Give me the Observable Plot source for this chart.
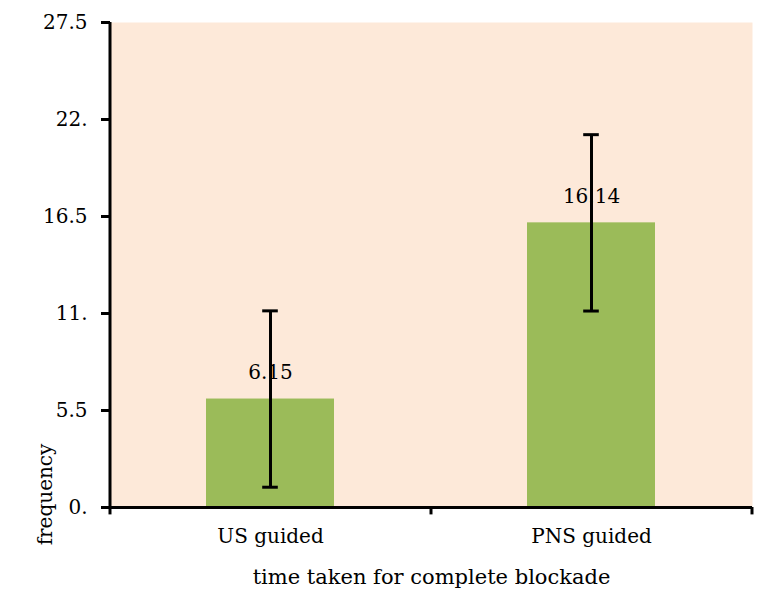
<!DOCTYPE html>
<html>
<head>
<meta charset="utf-8">
<script src="https://cdn.jsdelivr.net/npm/d3@7"></script>
<script src="https://cdn.jsdelivr.net/npm/@observablehq/plot@0.6"></script>
<style>
  html, body { margin: 0; padding: 0; background: #ffffff; }
  #chart { width: 763px; height: 598px; }
</style>
</head>
<body>
<div id="chart"></div>
<script>
const categories = ["US guided", "PNS guided"];
const values = [6.15, 16.14];
const errLow = [1.15, 11.14];
const errHigh = [11.15, 21.14];
const yTicks = [0, 5.5, 11, 16.5, 22, 27.5];
const yTickLabels = ["0.", "5.5", "11.", "16.5", "22.", "27.5"];
const xTitle = "time taken for complete blockade";
const yTitle = "frequency";

const data = categories.map((c, i) => ({cat: c, value: values[i], lo: errLow[i], hi: errHigh[i], label: String(values[i])}));

const W = 763, H = 598;
const mL = 110, mR = 11, mT = 22, mB = 91;
const step = (W - mL - mR) / categories.length;
const band = step * 0.4;
const capW = 16;
const font = "'DejaVu Serif', serif";

const chart = Plot.plot({
  width: W,
  height: H,
  marginLeft: mL,
  marginRight: mR,
  marginTop: mT,
  marginBottom: mB,
  style: {fontFamily: font, fontSize: "20px", color: "#000", background: "transparent"},
  x: {domain: categories, paddingInner: 0.6, paddingOuter: 0.3},
  y: {domain: [0, 27.5]},
  marks: [
    Plot.frame({fill: "#fde9d9", stroke: null}),
    Plot.barY(data, {x: "cat", y: "value", fill: "#9bbb59"}),
    Plot.ruleX(data, {x: "cat", y1: "lo", y2: "hi", stroke: "#000", strokeWidth: 3}),
    Plot.tickY(data, {x: "cat", y: "lo", stroke: "#000", strokeWidth: 3, insetLeft: (band - capW) / 2, insetRight: (band - capW) / 2}),
    Plot.tickY(data, {x: "cat", y: "hi", stroke: "#000", strokeWidth: 3, insetLeft: (band - capW) / 2, insetRight: (band - capW) / 2}),
    Plot.text(data, {x: "cat", y: "value", text: "label", dy: -26, fontSize: 20, fill: "#000"}),
    // axis lines
    Plot.ruleY([0], {stroke: "#000", strokeWidth: 3, insetLeft: -9}),
    Plot.ruleX([categories[0]], {x: d => d, dx: -step / 2, y1: 0, y2: 27.5, stroke: "#000", strokeWidth: 3}),
    // category boundary ticks
    Plot.ruleX(categories, {x: d => d, dx: -step / 2, y1: 0, y2: -0.42, stroke: "#000", strokeWidth: 3}),
    Plot.ruleX([categories[categories.length - 1]], {x: d => d, dx: step / 2, y1: 0, y2: -0.42, stroke: "#000", strokeWidth: 3}),
    Plot.axisY({ticks: yTicks, tickFormat: d => yTickLabels[yTicks.indexOf(d)], tickSize: 9, tickPadding: 14, strokeWidth: 3, stroke: "#000", label: null, fontSize: 20}),
    Plot.axisX({tickSize: 0, tickPadding: 21, label: null, fontSize: 20}),
    Plot.text([xTitle], {frameAnchor: "bottom", dy: 70, fontSize: 21, fill: "#000", lineAnchor: "middle"}),
    Plot.text([yTitle], {frameAnchor: "bottom-left", dx: -65, dy: -13, rotate: -90, fontSize: 20, fill: "#000", textAnchor: "middle", lineAnchor: "middle"})
  ]
});
document.getElementById("chart").appendChild(chart);
</script>
</body>
</html>
